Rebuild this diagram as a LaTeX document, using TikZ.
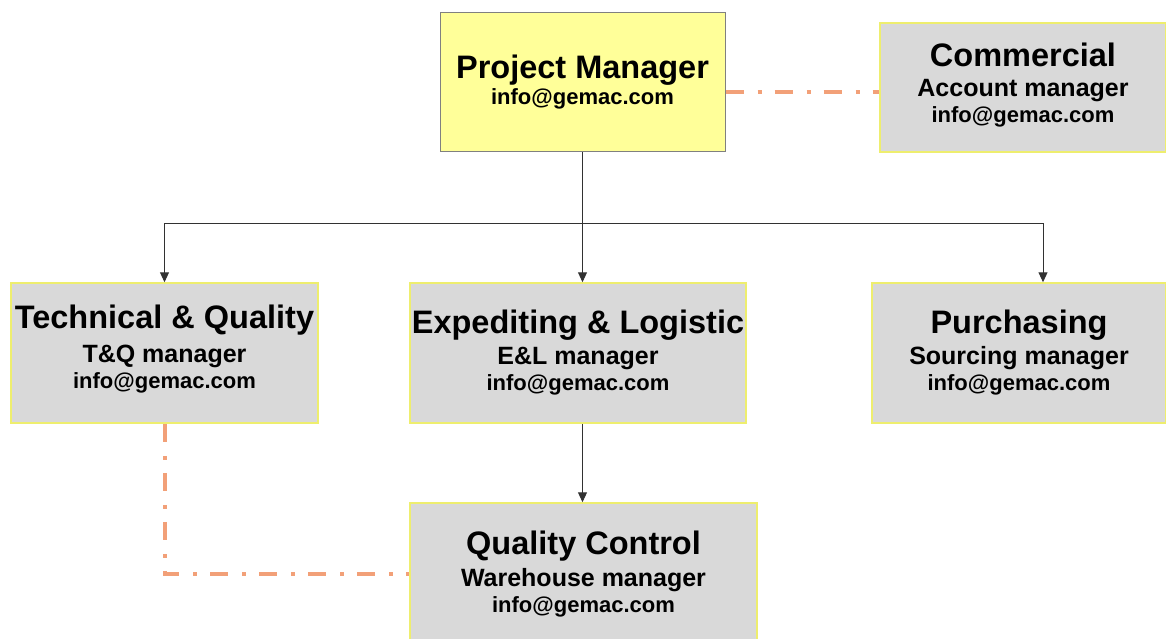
\documentclass[tikz,border=0pt]{standalone}
\usepackage{fontspec}
\setmainfont{Liberation Sans}
\usetikzlibrary{arrows.meta, positioning, calc}
\definecolor{pmyellow}{RGB}{255,255,153}
\definecolor{unitgray}{RGB}{217,217,217}
\definecolor{unitedge}{RGB}{238,238,110}
\definecolor{liaisonorange}{RGB}{242,160,120}
\definecolor{wiregray}{RGB}{50,50,50}
\newcommand{\titleline}[1]{{\fontsize{32.5}{26}\selectfont #1}}
\newcommand{\roleline}[1]{{\fontsize{25}{26}\selectfont #1}}
\newcommand{\mailline}{{\fontsize{22}{26}\selectfont info@gemac.com}}

\begin{document}
\begin{tikzpicture}[x=1pt,y=-1pt,
    every node/.style={font=\bfseries\fontsize{22}{26}\selectfont,align=center,inner sep=0pt},
    unit/.style={draw=unitedge,fill=unitgray,line width=1.5pt},
    head/.style={draw=gray,fill=pmyellow,line width=1pt},
    wire/.style={draw=wiregray,line width=1pt},
    feed/.style={wire,-{Triangle[width=9pt,length=10pt]}},
    dotdash/.style={draw=liaisonorange,line width=4pt,dash pattern=on 18pt off 14pt on 4pt off 13pt}]
    \useasboundingbox (0,0) rectangle (1166,639);
    \clip (0,0) rectangle (1166,639);
    \node[head,minimum width=285pt,minimum height=139pt] (pm) at (582.5,82.5) {\titleline{Project Manager}\\\mailline};
    \node[unit,minimum width=286pt,minimum height=129pt] (comm) at (1023,87.5) {\titleline{Commercial}\\[4pt]\roleline{Account manager}\\\mailline\\[-16pt]};
    \node[unit,minimum width=307pt,minimum height=140pt] (tq) at (164.5,353) {\titleline{Technical \& Quality}\\[8pt]\roleline{T\&Q manager}\\\mailline\\[-14pt]};
    \node[unit,minimum width=336pt,minimum height=140pt] (el) at (578,353) {\titleline{Expediting \& Logistic}\\[5pt]\roleline{E\&L manager}\\\mailline};
    \node[unit,minimum width=294pt,minimum height=140pt] (purch) at (1019,353) {\titleline{Purchasing}\\[5pt]\roleline{Sourcing manager}\\\mailline};
    \node[unit,minimum width=347pt,minimum height=142pt] (qc) at (583.5,574) {\titleline{Quality Control}\\[6pt]\roleline{Warehouse manager}\\\mailline};
    \coordinate (bus) at ($(pm.south)+(0,71)$);
    \draw[wire] (pm.south) -- (bus);
    \draw[feed] (bus) -| (tq.north);
    \draw[feed] (bus) -| ([xshift=24pt]purch.north);
    \draw[feed] (bus) -- (bus |- el.north);
    \draw[feed] (el.south -| bus) -- (bus |- qc.north);
    \draw[dotdash] ([yshift=-10pt]pm.east) -- ([yshift=-10pt]pm.east -| comm.west);
    \draw[dotdash] (tq.south) |- (qc.west);
\end{tikzpicture}
\end{document}
